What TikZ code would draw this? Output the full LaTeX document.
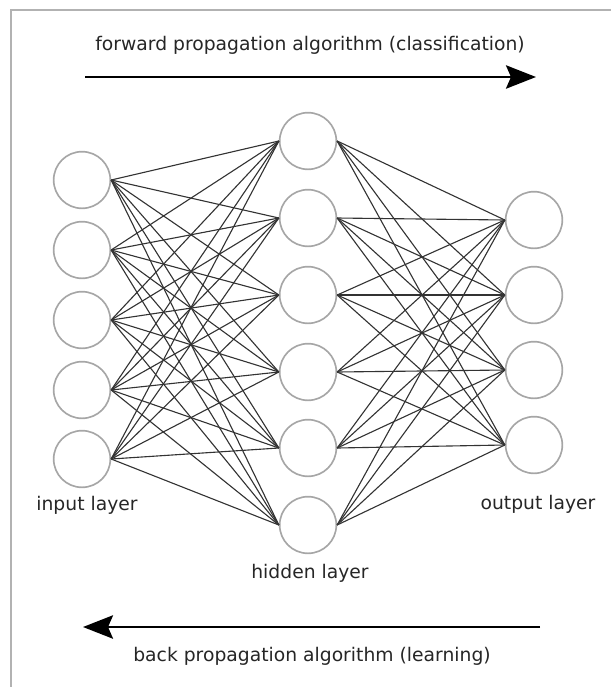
\documentclass[tikz,border=0pt]{standalone}
\usepackage{fontspec}
\setmainfont{DejaVu Sans}
\usetikzlibrary{arrows.meta}

\begin{document}
\begin{tikzpicture}[x=0.03cm, y=-0.03cm,
  neuron/.style={circle, draw=gray!70, line width=1.4pt, minimum size=1.7cm, inner sep=0pt},
  edge/.style={draw=black!80, line width=0.95pt},
  flow/.style={line width=2.2pt, -{Stealth[length=9mm,width=7mm,inset=1.5mm]}},
  caption/.style={font=\fontsize{16}{19}\selectfont, text=black!85}]

 \useasboundingbox (0,0) rectangle (611,687);
 % frame
 \draw[gray!60, line width=1.4pt] (11,687) -- (11,10) -- (611,10);

 %layers
 \foreach \i/\y in {1/180,2/250,3/320,4/390,5/459}
        \node[neuron] (in\i) at (82,\y) {};
 \foreach \i/\y in {1/141,2/218,3/295,4/372,5/448,6/525}
        \node[neuron] (hid\i) at (308,\y) {};
 \foreach \i/\y in {1/220,2/295,3/370,4/445}
        \node[neuron] (out\i) at (534,\y) {};

 % lines
 \foreach \a in {1,...,5}
   \foreach \b in {1,...,6}
        \path[edge] (in\a.east) -- (hid\b.west);
 \foreach \b in {1,...,6}
   \foreach \c in {1,...,4}
        \path[edge] (hid\b.east) -- (out\c.west);

 \node[caption] (inlabel) at (87,505) {input layer};
 \node[caption] (hidlabel) at (310,573) {hidden layer};
 \node[caption] (outlabel) at (538,504) {output layer};

 % arrows
 \coordinate (fwdstart) at (85,77);
 \coordinate (fwdend) at (536,77);
 \draw[flow] (fwdstart) -- (fwdend);
 \node[caption] (fwdlabel) at (310,45) {forward propagation algorithm (classification)};

 \coordinate (backstart) at (540,627);
 \coordinate (backend) at (83,627);
 \draw[flow] (backstart) -- (backend);
 \node[caption] (backlabel) at (312,656) {back propagation algorithm (learning)};

\end{tikzpicture}
\end{document}
